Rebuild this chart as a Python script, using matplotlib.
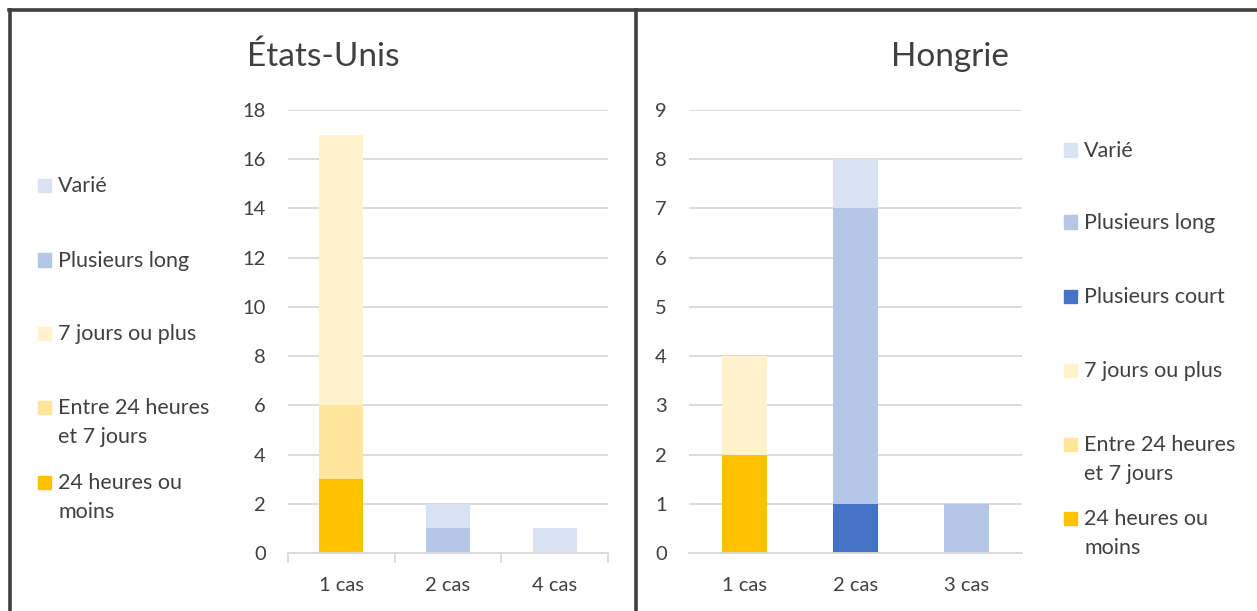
import matplotlib.pyplot as plt
from matplotlib.lines import Line2D
from matplotlib.patches import Rectangle
import numpy as np

plt.rcParams['font.family'] = ['Lato', 'DejaVu Sans']

TXT = '#404040'
GRID = '#D9D9D9'

# séries (du bas vers le haut de la pile)
series = ['24 heures ou\nmoins', 'Entre 24 heures\net 7 jours', '7 jours ou plus',
          'Plusieurs court', 'Plusieurs long', 'Varié']
colors = ['#FFC000', '#FFE699', '#FFF2CC', '#4472C4', '#B4C7E7', '#DAE3F3']

# États-Unis
cats_us = ['1 cas', '2 cas', '4 cas']
us_24h = [3, 0, 0]
us_entre = [3, 0, 0]
us_7j = [11, 0, 0]
us_court = [0, 0, 0]
us_long = [0, 1, 0]
us_varie = [0, 1, 1]

# Hongrie
cats_hu = ['1 cas', '2 cas', '3 cas']
hu_24h = [2, 0, 0]
hu_entre = [0, 0, 0]
hu_7j = [2, 0, 0]
hu_court = [0, 1, 0]
hu_long = [0, 6, 1]
hu_varie = [0, 1, 0]

W, H = 1257, 611
fig = plt.figure(figsize=(W / 100, H / 100), dpi=100)


def fx(px):
    return px / W


def fy(py):
    return 1 - py / H


def stacked(ax, cats, data, ymax, step, ticks):
    x = np.arange(len(cats))
    bottom = np.zeros(len(cats))
    for vals, c in zip(data, colors):
        ax.bar(x, vals, 0.41, bottom=bottom, color=c, zorder=2)
        bottom += np.array(vals)
    ax.set_xlim(-0.5, len(cats) - 0.5)
    ax.set_ylim(0, ymax)
    ax.set_yticks(np.arange(0, ymax + step, step))
    ax.set_xticks(x)
    ax.set_xticklabels(cats)
    ax.grid(axis='y', color=GRID, lw=1.3, zorder=0)
    for s in ['top', 'right', 'left']:
        ax.spines[s].set_visible(False)
    ax.spines['bottom'].set_color(GRID)
    ax.spines['bottom'].set_linewidth(1.3)
    ax.tick_params(axis='y', length=0, pad=16, labelsize=14.5, labelcolor=TXT)
    ax.tick_params(axis='x', length=0, pad=17, labelsize=14.5, labelcolor=TXT)
    if ticks:
        ax.set_xticks(np.arange(len(cats) + 1) - 0.5, minor=True)
        ax.tick_params(axis='x', which='minor', length=7, color=GRID, width=1.3)


ax1 = fig.add_axes([fx(288), fy(553), fx(608 - 288), (553 - 110) / H])
stacked(ax1, cats_us, [us_24h, us_entre, us_7j, us_court, us_long, us_varie], 18, 2, True)

ax2 = fig.add_axes([fx(689), fy(553), fx(1022 - 689), (553 - 110) / H])
stacked(ax2, cats_hu, [hu_24h, hu_entre, hu_7j, hu_court, hu_long, hu_varie], 9, 1, False)

fig.text(fx(323), fy(57), 'États-Unis', fontsize=24, color=TXT, ha='center', va='center')
fig.text(fx(950), fy(57), 'Hongrie', fontsize=24, color=TXT, ha='center', va='center')


def legend(x0, ys, idx):
    for y, i in zip(ys, idx):
        fig.patches.append(Rectangle((fx(x0), fy(y + 6.5)), fx(13), 13 / H,
                                     color=colors[i], transform=fig.transFigure))
        fig.text(fx(x0 + 20), fy(y - 9), series[i], fontsize=15.5, color=TXT,
                 ha='left', va='top', linespacing=1.55)


legend(38, [185, 260, 333, 407, 482], [5, 4, 2, 1, 0])
legend(1064, [150, 222, 296, 370, 444, 518], [5, 4, 3, 2, 1, 0])

# cadres des deux graphiques
for xs, ys in [([9, W], [10, 10]), ([10, 10], [10, H]), ([636, 636], [10, H])]:
    fig.add_artist(Line2D([fx(v) for v in xs], [fy(v) for v in ys],
                          color='#404040', lw=2.6, transform=fig.transFigure))

fig.savefig('out.png', dpi=100)
